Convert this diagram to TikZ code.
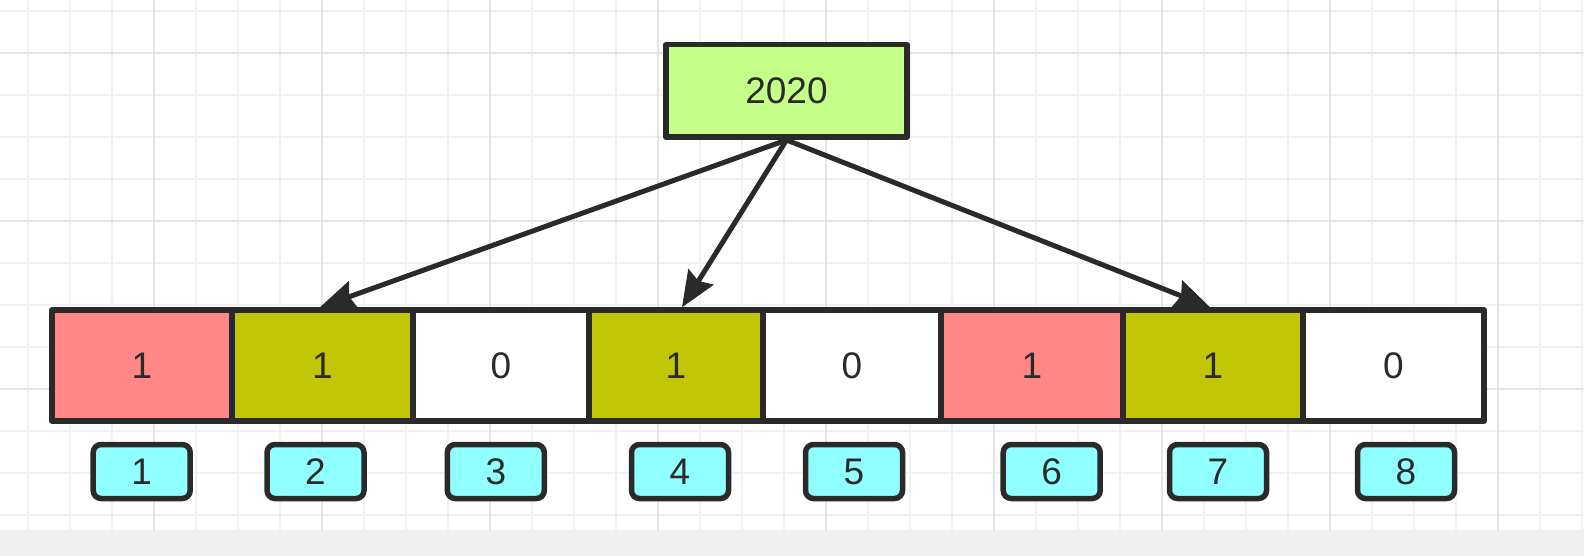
\documentclass[tikz,border=0pt]{standalone}
\usepackage{fontspec}
\setmainfont{Liberation Sans}
\usetikzlibrary{arrows.meta}
\definecolor{ink}{HTML}{2A2A2A}
\definecolor{gridminor}{HTML}{F1F1F1}
\definecolor{gridmajor}{HTML}{E4E4E4}
\definecolor{bandgray}{HTML}{EFEFEF}
\definecolor{topfill}{HTML}{C5FF8A}
\definecolor{redfill}{HTML}{FF8787}
\definecolor{olivefill}{HTML}{C2C606}
\definecolor{cyanfill}{HTML}{8FFFFF}
\begin{document}
\begin{tikzpicture}[x=1pt,y=-1pt,
  lbl/.style={font=\fontsize{37}{44}\selectfont, text=ink},
  cellbox/.style={draw=ink, line width=5.5pt, line join=round, minimum height=111pt, inner sep=0pt, lbl},
  idxbox/.style={draw=ink, fill=cyanfill, line width=5.5pt, rounded corners=8pt, minimum width=97pt, minimum height=54pt, inner sep=0pt, lbl},
  topbox/.style={draw=ink, fill=topfill, line width=5.5pt, line join=round, minimum width=241pt, minimum height=92.5pt, inner sep=0pt, lbl},
  link/.style={draw=ink, line width=5pt, -{Stealth[length=36pt,width=30pt,inset=5pt,line width=1pt]}},
  minorline/.style={draw=gridminor, line width=2pt},
  majorline/.style={draw=gridmajor, line width=2pt}]
\useasboundingbox (0,0) rectangle (1584,556);
\fill[white] (0,0) rectangle (1584,556);
% grid
\foreach \x in {28,70,...,1584} \draw[minorline] (\x,0) -- (\x,530);
\foreach \y in {11,53,...,530} \draw[minorline] (0,\y) -- (1584,\y);
\foreach \x in {154,322,...,1584} \draw[majorline] (\x,0) -- (\x,530);
\foreach \y in {53,221,389} \draw[majorline] (0,\y) -- (1584,\y);
\fill[bandgray] (0,530) rectangle (1584,556);
% top node
\node[topbox] (top) at (786.5,91) {2020};
% cells
\node[cellbox, fill=redfill,   minimum width=180pt] (c1) at (142,365.5) {1};
\node[cellbox, fill=olivefill, minimum width=181pt] (c2) at (322.5,365.5) {1};
\node[cellbox, fill=white,     minimum width=176pt] (c3) at (501,365.5) {0};
\node[cellbox, fill=olivefill, minimum width=174pt] (c4) at (676,365.5) {1};
\node[cellbox, fill=white,     minimum width=178pt] (c5) at (852,365.5) {0};
\node[cellbox, fill=redfill,   minimum width=182pt] (c6) at (1032,365.5) {1};
\node[cellbox, fill=olivefill, minimum width=180pt] (c7) at (1213,365.5) {1};
\node[cellbox, fill=white,     minimum width=181pt] (c8) at (1393.5,365.5) {0};
% index boxes
\node[idxbox] (i1) at (141.7,471.5) {1};
\node[idxbox] (i2) at (315.5,471.5) {2};
\node[idxbox] (i3) at (495.8,471.5) {3};
\node[idxbox] (i4) at (680,471.5) {4};
\node[idxbox] (i5) at (854,471.5) {5};
\node[idxbox] (i6) at (1051.7,471.5) {6};
\node[idxbox] (i7) at (1218,471.5) {7};
\node[idxbox] (i8) at (1406,471.5) {8};
% arrows
\draw[link] (top.south) -- ([xshift=-2.5pt]c2.north);
\draw[link] (top.south) -- ([xshift=6pt]c4.north);
\draw[link] (top.south) -- ([xshift=-3pt]c7.north);
\end{tikzpicture}
\end{document}
